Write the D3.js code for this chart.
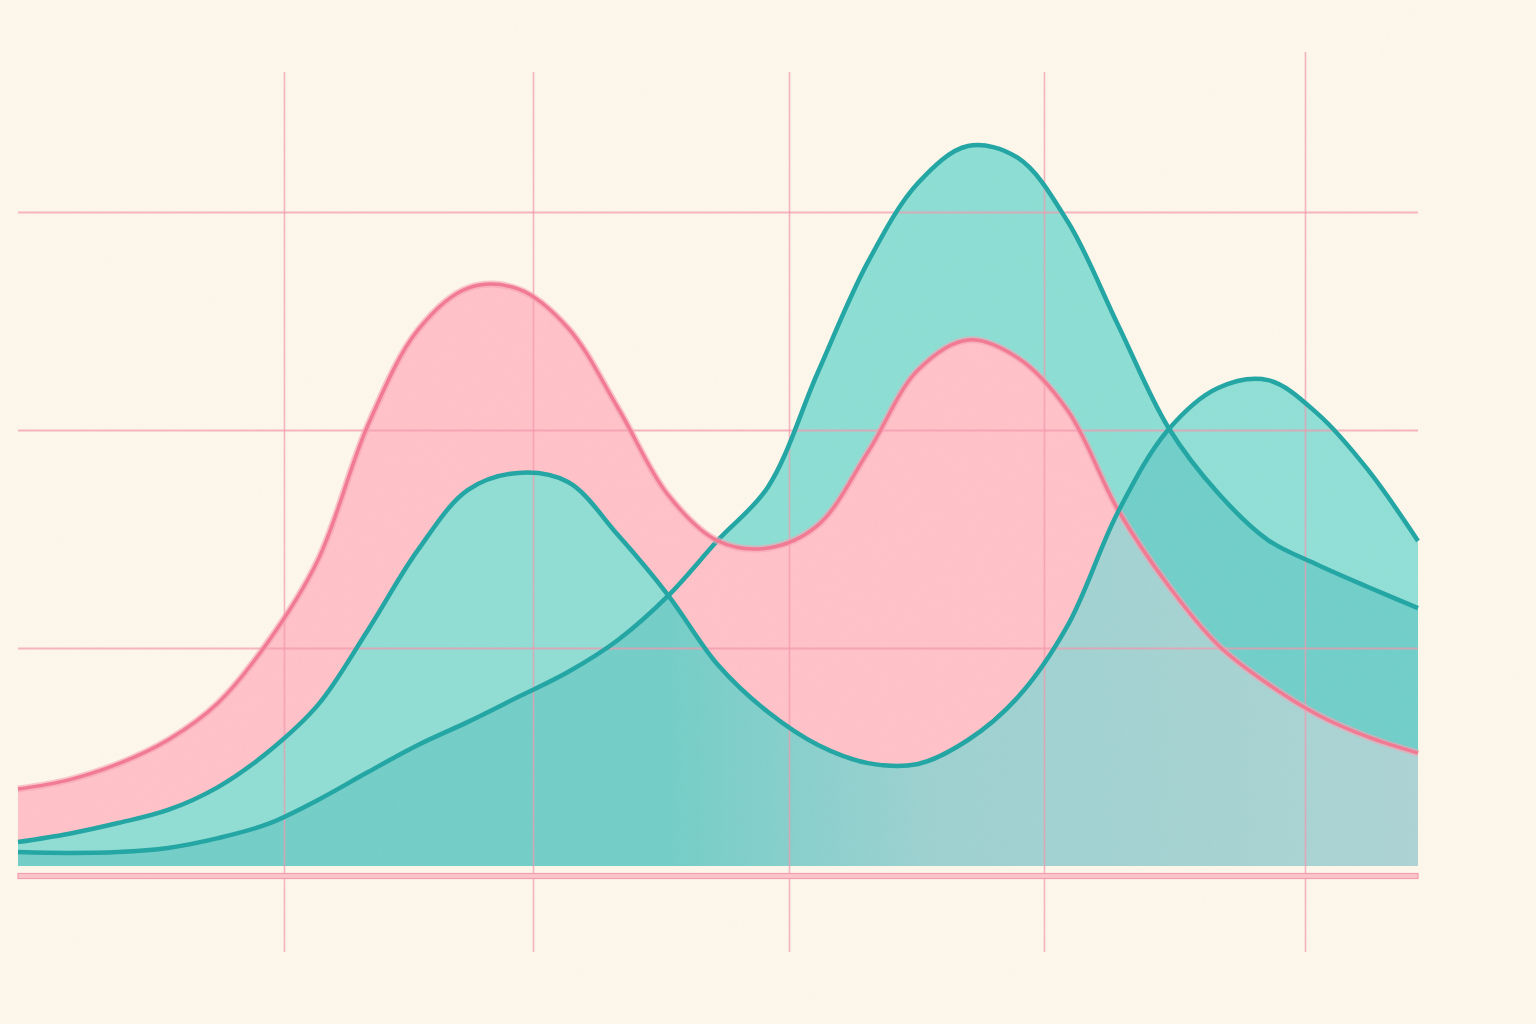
<!DOCTYPE html>
<html>
<head>
<meta charset="utf-8">
<script src="https://cdn.jsdelivr.net/npm/d3@7"></script>
<style>
  html, body { margin: 0; padding: 0; background: #fef7ec; }
  svg { display: block; }
</style>
</head>
<body>
<main></main>
<script>
const WIDTH = 1536;
const HEIGHT = 1024;

// sample positions along x
var xSteps = [0, 1, 2, 3, 4, 5, 6, 7, 8, 9, 10, 11, 12, 13, 14,
              15, 16, 17, 18, 19, 20, 21, 22, 23, 24, 25, 26, 27, 28];

// pink series (two humps)
var pinkValues = [3.53, 3.94, 4.68, 5.78, 7.48, 10.28, 14.04, 20.23, 24.59, 26.51,
                  26.47, 24.68, 21.01, 17.02, 14.91, 14.59, 15.64, 18.99, 22.75, 24.13,
                  23.30, 20.87, 16.33, 12.89, 10.14, 8.35, 6.93, 5.92, 5.18];

// teal series in front
var tealFrontValues = [1.10, 1.47, 1.97, 2.57, 3.62, 5.23, 7.39, 10.83, 14.50, 17.25,
                       18.03, 17.61, 15.18, 12.43, 9.22, 7.06, 5.55, 4.72, 4.68, 5.78,
                       7.75, 11.06, 16.24, 20.00, 21.93, 22.29, 20.73, 18.17, 14.91];

// teal series at the back (big peak)
var tealBackValues = [0.64, 0.60, 0.64, 0.83, 1.28, 1.93, 3.03, 4.31, 5.55, 6.61,
                      7.75, 8.90, 10.37, 12.39, 14.95, 17.39, 22.66, 27.71, 31.33, 33.03,
                      32.48, 29.54, 24.82, 20.14, 17.11, 14.95, 13.81, 12.80, 11.83];

// grid positions
var gridX = [5.32, 10.3, 15.42, 20.52, 25.74];
var gridY = [10, 20, 30];

var PINK_FILL = "#ffc3c9";
var PINK_LINE = "#f37b95";
var TEAL_FILL = "#8edfd5";
var TEAL_LINE = "#24a7a5";
var GRID = "#f49aae";

function drawChart () {
    var svg = d3.select("main").append("svg")
                .attr("width", WIDTH)
                .attr("height", HEIGHT);

    svg.append("rect")
       .attr("width", WIDTH)
       .attr("height", HEIGHT)
       .style("fill", "#fef7ec");

    var x = d3.scaleLinear().domain([0, 28]).range([18, 1418]);
    var y = d3.scaleLinear().domain([0, 30]).range([866, 212]);

    var curve = d3.curveCatmullRom.alpha(0.5);

    var area = d3.area()
                 .x(function (d, i) { return x(xSteps[i]); })
                 .y0(y(0))
                 .y1(function (d) { return y(d); })
                 .curve(curve);

    var line = d3.line()
                 .x(function (d, i) { return x(xSteps[i]); })
                 .y(function (d) { return y(d); })
                 .curve(curve);

    var defs = svg.append("defs");

    // clip to the front teal area, used for the overlap shading
    defs.append("clipPath")
        .attr("id", "clip-front")
        .append("path")
        .attr("d", area(tealFrontValues));

    // pale pink wash that grows towards the right edge
    var tint = defs.append("linearGradient")
                   .attr("id", "pink-tint")
                   .attr("gradientUnits", "userSpaceOnUse")
                   .attr("x1", x(13)).attr("x2", x(28))
                   .attr("y1", 0).attr("y2", 0);
    tint.append("stop").attr("offset", 0).attr("stop-color", "#fddce6").attr("stop-opacity", 0);
    tint.append("stop").attr("offset", 0.35).attr("stop-color", "#fddce6").attr("stop-opacity", 0.3);
    tint.append("stop").attr("offset", 1).attr("stop-color", "#fddce6").attr("stop-opacity", 0.42);

    // paper grain
    var grain = defs.append("filter")
                    .attr("id", "grain")
                    .attr("x", 0).attr("y", 0)
                    .attr("width", "100%").attr("height", "100%");
    grain.append("feTurbulence")
         .attr("type", "fractalNoise")
         .attr("baseFrequency", 0.9)
         .attr("numOctaves", 2)
         .attr("stitchTiles", "stitch");
    grain.append("feColorMatrix")
         .attr("type", "saturate")
         .attr("values", 0);

    // fills, back to front
    svg.append("path")
       .attr("d", area(tealBackValues))
       .style("fill", TEAL_FILL);

    svg.append("path")
       .attr("d", area(pinkValues))
       .style("fill", PINK_FILL);

    svg.append("path")
       .attr("d", area(tealFrontValues))
       .style("fill", TEAL_FILL)
       .style("opacity", 0.96);

    svg.append("path")
       .attr("d", area(tealBackValues))
       .attr("clip-path", "url(#clip-front)")
       .style("fill", "#3bb2b0")
       .style("opacity", 0.32);

    svg.append("path")
       .attr("d", area(pinkValues))
       .attr("clip-path", "url(#clip-front)")
       .style("fill", "url(#pink-tint)");

    // grid lines
    var vGrid = svg.append("g")
                   .attr("transform", "translate(0,952)")
                   .call(d3.axisBottom(x).tickValues(gridX).tickSize(-880).tickFormat(""));
    vGrid.select(".domain").remove();
    vGrid.selectAll(".tick line")
         .attr("y2", function (d, i) { return i == gridX.length - 1 ? -900 : -880; })
         .style("stroke", GRID)
         .style("stroke-width", 1.6)
         .style("opacity", 0.7);

    var hGrid = svg.append("g")
                   .attr("transform", "translate(18,0)")
                   .call(d3.axisLeft(y).tickValues(gridY).tickSize(-1400).tickFormat(""));
    hGrid.select(".domain").remove();
    hGrid.selectAll(".tick line")
         .style("stroke", GRID)
         .style("stroke-width", 2)
         .style("opacity", 0.7);

    // outlines
    svg.append("path")
       .attr("d", line(tealBackValues))
       .style("fill", "none")
       .style("stroke", TEAL_LINE)
       .style("stroke-width", 4.5);

    svg.append("path")
       .attr("d", line(pinkValues))
       .style("fill", "none")
       .style("stroke", "#f8a5b5")
       .style("stroke-width", 7)
       .style("opacity", 0.6);

    svg.append("path")
       .attr("d", line(pinkValues))
       .style("fill", "none")
       .style("stroke", PINK_LINE)
       .style("stroke-width", 3.5);

    svg.append("path")
       .attr("d", line(tealFrontValues))
       .style("fill", "none")
       .style("stroke", TEAL_LINE)
       .style("stroke-width", 4.5);

    // double baseline under the plot
    svg.append("rect")
       .attr("x", x(0))
       .attr("y", 873.5)
       .attr("width", x(28) - x(0))
       .attr("height", 5)
       .style("fill", "#fbc6cd")
       .style("stroke", "#f5a0b0")
       .style("stroke-width", 1.2);

    // grain on top of everything
    svg.append("rect")
       .attr("width", WIDTH)
       .attr("height", HEIGHT)
       .attr("filter", "url(#grain)")
       .style("opacity", 0.05)
       .style("mix-blend-mode", "multiply");
}

drawChart();
</script>
</body>
</html>
